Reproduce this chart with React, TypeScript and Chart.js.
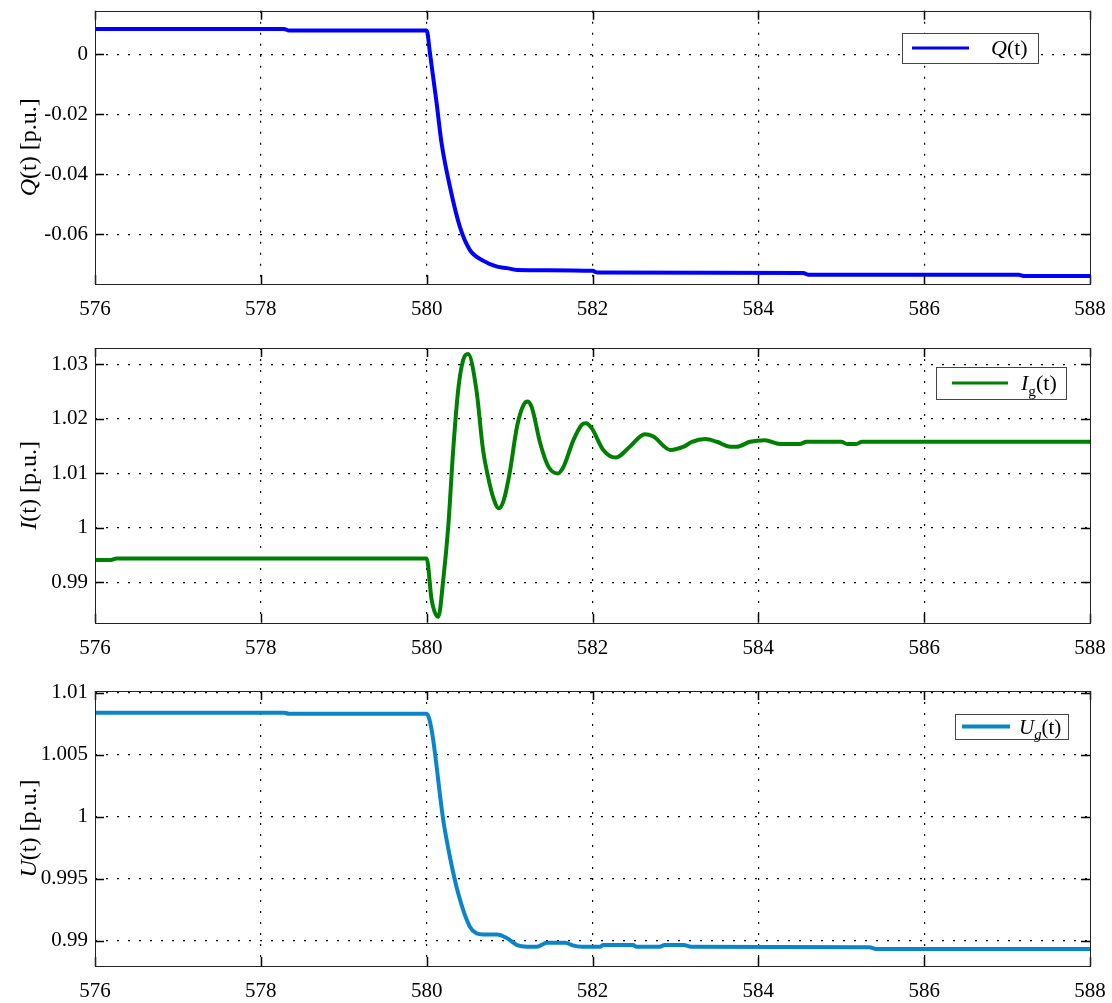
import React, { useEffect, useRef } from 'react';
import { Chart, registerables } from 'chart.js';

Chart.register(...registerables);

// ---------------- data ----------------
const X_TICKS = [576, 578, 580, 582, 584, 586, 588];
const X_LABELS = ['576', '578', '580', '582', '584', '586', '588'];

const Q_TICKS = [-0.06, -0.04, -0.02, 0];
const Q_LABELS = ['-0.06', '-0.04', '-0.02', '0'];
const I_TICKS = [0.99, 1, 1.01, 1.02, 1.03];
const I_LABELS = ['0.99', '1', '1.01', '1.02', '1.03'];
const U_TICKS = [0.99, 0.995, 1, 1.005, 1.01];
const U_LABELS = ['0.99', '0.995', '1', '1.005', '1.01'];

const Q_TIME = [576, 578.28, 578.34, 580.0, 580.04, 580.12, 580.18, 580.28, 580.4, 580.52, 580.68, 580.85, 580.97, 581.09, 582.0, 582.06, 584.54, 584.6, 587.14, 587.2, 588];
const Q_VALUES = [0.0084, 0.0084, 0.0079, 0.0079, 0.0003, -0.0163, -0.0297, -0.0441, -0.0575, -0.0652, -0.0688, -0.0708, -0.0713, -0.0719, -0.0722, -0.0728, -0.0729, -0.0735, -0.0735, -0.0739, -0.0739];

const I_TIME = [576, 576.18, 576.26, 580.0, 580.06, 580.14, 580.2, 580.26, 580.32, 580.38, 580.44, 580.5, 580.6, 580.68, 580.74, 580.8, 580.87, 580.93, 581.0, 581.09, 581.17, 581.22, 581.27, 581.37, 581.47, 581.58, 581.65, 581.77, 581.87, 581.92, 581.99, 582.13, 582.28, 582.45, 582.63, 582.73, 582.94, 583.1, 583.2, 583.36, 583.5, 583.66, 583.74, 583.9, 584.08, 584.26, 584.5, 584.58, 585.0, 585.07, 585.18, 585.25, 588];
const I_VALUES = [0.9941, 0.9941, 0.9944, 0.9944, 0.9868, 0.9837, 0.9905, 1.0002, 1.0143, 1.0253, 1.0308, 1.0319, 1.0253, 1.0143, 1.0094, 1.0057, 1.0036, 1.0051, 1.01, 1.0186, 1.0226, 1.0232, 1.022, 1.0155, 1.0112, 1.01, 1.0112, 1.0161, 1.0189, 1.0192, 1.0183, 1.0143, 1.0129, 1.0149, 1.0172, 1.0168, 1.0143, 1.0149, 1.0158, 1.0163, 1.0158, 1.0149, 1.0149, 1.0158, 1.0161, 1.0154, 1.0154, 1.0158, 1.0158, 1.0154, 1.0154, 1.0158, 1.0158];

const U_TIME = [576, 578.28, 578.34, 580.0, 580.06, 580.2, 580.28, 580.38, 580.52, 580.6, 580.68, 580.85, 580.97, 581.09, 581.21, 581.33, 581.45, 581.67, 581.77, 581.87, 582.09, 582.13, 582.49, 582.53, 582.81, 582.87, 583.1, 583.19, 585.34, 585.42, 588];
const U_VALUES = [1.00839, 1.00839, 1.0083, 1.0083, 1.007, 0.99973, 0.99677, 0.99382, 0.99113, 0.9906, 0.9905, 0.9905, 0.9902, 0.98965, 0.98952, 0.98952, 0.98984, 0.98984, 0.9896, 0.98952, 0.98952, 0.98965, 0.98965, 0.98952, 0.98952, 0.98965, 0.98965, 0.98952, 0.98947, 0.98933, 0.98933];

// ---------------- styling ----------------
const FONT = "'Liberation Serif', 'Times New Roman', serif";

type Part = { text: string; italic?: boolean; sub?: boolean };

function partsWidth(ctx: CanvasRenderingContext2D, parts: Part[], size: number) {
  let w = 0;
  for (const p of parts) {
    const s = p.sub ? size * 0.7 : size;
    ctx.font = `${p.italic ? 'italic ' : ''}${s}px ${FONT}`;
    w += ctx.measureText(p.text).width;
  }
  return w;
}

function drawParts(ctx: CanvasRenderingContext2D, parts: Part[], x: number, y: number, size: number) {
  let cx = x;
  ctx.textBaseline = 'alphabetic';
  ctx.textAlign = 'left';
  for (const p of parts) {
    const s = p.sub ? size * 0.7 : size;
    ctx.font = `${p.italic ? 'italic ' : ''}${s}px ${FONT}`;
    ctx.fillText(p.text, cx, p.sub ? y + size * 0.25 : y);
    cx += ctx.measureText(p.text).width;
  }
}

const decorPlugin = {
  id: 'decor',
  afterDraw(chart: any, _args: any, opts: any) {
    const ctx: CanvasRenderingContext2D = chart.ctx;
    const { left, right, top, bottom } = chart.chartArea;
    ctx.save();
    // inward tick marks
    ctx.strokeStyle = '#000';
    ctx.lineWidth = 1.5;
    const tl = 9;
    const xs = chart.scales.x;
    const ys = chart.scales.y;
    ctx.beginPath();
    for (const t of xs.ticks) {
      const px = Math.round(xs.getPixelForValue(t.value)) + 0.5;
      ctx.moveTo(px, bottom);
      ctx.lineTo(px, bottom - tl);
      ctx.moveTo(px, top);
      ctx.lineTo(px, top + tl);
    }
    for (const t of ys.ticks) {
      const py = Math.round(ys.getPixelForValue(t.value)) + 0.5;
      ctx.moveTo(left, py);
      ctx.lineTo(left + tl, py);
      ctx.moveTo(right, py);
      ctx.lineTo(right - tl, py);
    }
    ctx.stroke();
    // frame
    ctx.strokeStyle = '#222';
    ctx.lineWidth = 1;
    ctx.strokeRect(Math.round(left) + 0.5, Math.round(top) + 0.5, Math.round(right - left), Math.round(bottom - top));

    // y title
    const tsize = opts.titleSize;
    ctx.fillStyle = '#000';
    const tw = partsWidth(ctx, opts.title, tsize);
    ctx.translate(opts.titleX, (top + bottom) / 2);
    ctx.rotate(-Math.PI / 2);
    drawParts(ctx, opts.title, -tw / 2, tsize * 0.33, tsize);
    ctx.setTransform(1, 0, 0, 1, 0, 0);

    // legend
    const lg = opts.legend;
    ctx.fillStyle = '#fff';
    ctx.fillRect(lg.x1, lg.y1, lg.x2 - lg.x1, lg.y2 - lg.y1);
    ctx.strokeStyle = '#444';
    ctx.lineWidth = 1;
    ctx.strokeRect(lg.x1 + 0.5, lg.y1 + 0.5, lg.x2 - lg.x1, lg.y2 - lg.y1);
    const cy = (lg.y1 + lg.y2) / 2;
    ctx.strokeStyle = opts.color;
    ctx.lineWidth = lg.lineWidth;
    ctx.beginPath();
    ctx.moveTo(lg.l1, cy);
    ctx.lineTo(lg.l2, cy);
    ctx.stroke();
    ctx.fillStyle = '#000';
    drawParts(ctx, opts.legendText, lg.tx, cy + 7, lg.size);
    ctx.restore();
  },
};

type PanelCfg = {
  top: number;
  height: number;
  padTop: number;
  padBottom: number;
  time: number[];
  values: number[];
  color: string;
  min: number;
  max: number;
  ticks: number[];
  labels: string[];
  title: Part[];
  legendText: Part[];
  legend: any;
};

function Panel({ cfg }: { cfg: PanelCfg }) {
  const ref = useRef<HTMLCanvasElement | null>(null);
  useEffect(() => {
    if (!ref.current) return;
    const tickFont = { family: FONT, size: 21 };
    const isEdgeX = (c: any) => c.tick && (c.tick.value === 576 || c.tick.value === 588);
    const chart = new Chart(ref.current, {
      type: 'line',
      data: {
        datasets: [
          {
            data: cfg.time.map((t, i) => ({ x: t, y: cfg.values[i] })),
            borderColor: cfg.color,
            borderWidth: 4,
            pointRadius: 0,
            cubicInterpolationMode: 'monotone',
            fill: false,
          },
        ],
      },
      options: {
        responsive: false,
        animation: false,
        events: [],
        layout: { padding: { left: 0, right: 22, top: cfg.padTop, bottom: cfg.padBottom } },
        plugins: {
          legend: { display: false },
          tooltip: { enabled: false },
          decor: {
            title: cfg.title,
            titleSize: 24,
            titleX: 28,
            color: cfg.color,
            legend: cfg.legend,
            legendText: cfg.legendText,
          },
        } as any,
        scales: {
          x: {
            type: 'linear',
            min: 576,
            max: 588,
            afterBuildTicks: (s: any) => {
              s.ticks = X_TICKS.map((v) => ({ value: v }));
            },
            afterFit: (s: any) => {
              s.height = 36;
              s.paddingLeft = 0;
              s.paddingRight = 0;
            },
            ticks: {
              callback: (_v: any, i: number) => X_LABELS[i],
              font: tickFont,
              color: '#000',
              padding: 13,
              maxRotation: 0,
              autoSkip: false,
            },
            grid: {
              color: (c: any) => (isEdgeX(c) ? 'rgba(0,0,0,0)' : '#000'),
              lineWidth: 1.2,
              drawTicks: false,
            },
            border: { display: false, dash: [2, 9] },
          },
          y: {
            type: 'linear',
            min: cfg.min,
            max: cfg.max,
            afterBuildTicks: (s: any) => {
              s.ticks = cfg.ticks.map((v) => ({ value: v }));
            },
            afterFit: (s: any) => {
              s.width = 95;
              s.paddingTop = 0;
              s.paddingBottom = 0;
            },
            ticks: {
              callback: (_v: any, i: number) => cfg.labels[i],
              font: tickFont,
              color: '#000',
              padding: 7,
              autoSkip: false,
            },
            grid: {
              color: '#000',
              lineWidth: 1.2,
              drawTicks: false,
            },
            border: { display: false, dash: [2, 9] },
          },
        },
      } as any,
      plugins: [decorPlugin],
    });
    return () => chart.destroy();
  }, [cfg]);
  return (
    <canvas
      ref={ref}
      width={1112}
      height={cfg.height}
      style={{ position: 'absolute', left: 0, top: cfg.top, width: 1112, height: cfg.height, display: 'block' }}
    />
  );
}

const PANELS: PanelCfg[] = [
  {
    top: 0,
    height: 330,
    padTop: 10.7,
    padBottom: 10,
    time: Q_TIME,
    values: Q_VALUES,
    color: '#0000ff',
    min: -0.0766,
    max: 0.0145,
    ticks: Q_TICKS,
    labels: Q_LABELS,
    title: [{ text: 'Q', italic: true }, { text: '(t) [p.u.]' }],
    legendText: [{ text: 'Q', italic: true }, { text: '(t)' }],
    legend: { x1: 902, y1: 33, x2: 1038, y2: 63, l1: 912, l2: 969, tx: 991, size: 22, lineWidth: 3 },
  },
  {
    top: 330,
    height: 340,
    padTop: 18,
    padBottom: 11.3,
    time: I_TIME,
    values: I_VALUES,
    color: '#008000',
    min: 0.98262,
    max: 1.033,
    ticks: I_TICKS,
    labels: I_LABELS,
    title: [{ text: 'I', italic: true }, { text: '(t) [p.u.]' }],
    legendText: [{ text: 'I', italic: true }, { text: 'g', sub: true }, { text: '(t)' }],
    legend: { x1: 936, y1: 37, x2: 1066, y2: 69, l1: 952, l2: 1008, tx: 1021, size: 22, lineWidth: 3 },
  },
  {
    top: 670,
    height: 333,
    padTop: 21,
    padBottom: 1,
    time: U_TIME,
    values: U_VALUES,
    color: '#0a85c9',
    min: 0.98796,
    max: 1.01014,
    ticks: U_TICKS,
    labels: U_LABELS,
    title: [{ text: 'U', italic: true }, { text: '(t) [p.u.]' }],
    legendText: [{ text: 'U', italic: true }, { text: 'g', italic: true, sub: true }, { text: '(t)' }],
    legend: { x1: 955, y1: 44, x2: 1068, y2: 69, l1: 962, l2: 1010, tx: 1019, size: 21, lineWidth: 4 },
  },
];

export default function App() {
  return (
    <div style={{ position: 'absolute', left: 0, top: 0, width: 1112, height: 1003, background: '#fff', overflow: 'hidden' }}>
      {PANELS.map((p, i) => (
        <Panel key={i} cfg={p} />
      ))}
    </div>
  );
}
